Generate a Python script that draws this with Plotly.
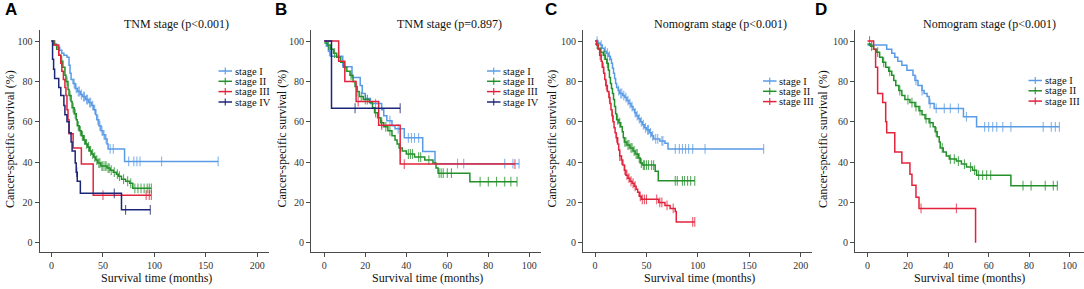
import numpy as np
import plotly.graph_objects as go

W, H = 1084, 289

# ---------------- DATA ----------------
stage_names = ["stage I", "stage II", "stage III", "stage IV"]
panel_titles = ["TNM stage (p&lt;0.001)", "TNM stage (p=0.897)",
                "Nomogram stage (p&lt;0.001)", "Nomogram stage (p&lt;0.001)"]
panel_letters = ["A", "B", "C", "D"]
x_ticks_long = [0, 50, 100, 150, 200]
x_ticks_short = [0, 20, 40, 60, 80, 100]
y_ticks = [0, 20, 40, 60, 80, 100]

# Panel A
A_I_t = [0, 2, 5, 8, 10, 12, 15, 17, 18, 19, 21, 23, 25, 28, 30, 33, 36, 39, 41, 43, 44, 46, 48, 50, 52, 54, 55, 71]
A_I_s = [100, 98.5, 97, 95.5, 94, 93, 92, 88, 84, 81, 79, 76.5, 75, 73.5, 72.5, 71, 69.5, 68, 66, 63.5, 61, 58, 55.5, 53.5, 51.5, 49, 46.5, 40.3]
A_I_c = [22, 24, 26, 27, 29, 31, 32, 34, 35, 37, 38, 40, 42, 45, 47, 49, 51, 53, 57, 60, 75, 80, 83, 86, 107, 162]

A_II_t = [0, 3, 5, 7, 9, 11, 13, 14, 16, 17, 19, 20, 22, 24, 25, 27, 29, 31, 33, 35, 37, 39, 41, 43, 45, 48, 54, 57, 60, 63, 65, 68, 72, 76, 79]
A_II_s = [100, 98, 96, 93, 90, 87, 83, 80, 76, 73, 70, 67, 64, 61, 58, 55.5, 53, 51, 49, 47.5, 45.5, 44, 42.5, 41, 39.5, 38, 37, 36, 35, 34, 33, 31.5, 30.5, 29.5, 27]
A_II_c = [10, 15, 18, 21, 23, 26, 28, 30, 32, 34, 36, 38, 40, 42, 44, 46, 47, 49, 50, 52, 53, 55, 56, 58, 61, 64, 66, 70, 74, 77, 81, 84, 87, 90, 93, 95, 97]

A_III_t = [0, 2, 7, 9, 10, 11.5, 13, 14, 15, 16, 17, 21, 29, 40.5]
A_III_s = [100, 98, 93, 89, 85, 81, 77, 73, 66, 61, 54, 47, 39, 23.6]
A_III_c = [50, 92, 95, 97]

A_IV_t = [0, 1, 2, 3, 7, 9, 12, 13, 15, 17, 19, 20, 23, 24, 25, 28, 68]
A_IV_s = [100, 91, 86, 81.5, 77, 73, 68, 63.5, 60, 54.5, 50, 45.5, 39.5, 35, 30.5, 24.5, 16.3]
A_IV_c = [24.5, 61, 72, 96]

# Panel B
B_I_t = [0, 1, 2, 3, 9, 13.5, 17.5, 18.5, 20, 22.5, 28, 29, 30.5, 33, 34.5, 39, 48, 54]
B_I_s = [100, 97.5, 95, 92.5, 87.3, 82, 78, 74, 71.5, 69, 66, 63, 60.5, 58, 56.5, 52, 45.2, 39.2]
B_I_c = [2.5, 25, 32, 36, 41, 42.5, 44, 46, 65, 68, 88, 92, 95]

B_II_t = [0, 1.5, 3, 4.5, 6, 8, 9.5, 11, 12.5, 14, 15, 16, 17, 19, 22, 23.5, 24.5, 26, 27.5, 29, 31, 33, 34.5, 35.5, 36.5, 38, 40, 44, 49, 53, 54.5, 55.5, 71]
B_II_s = [99, 98, 96, 94, 92, 89.5, 87, 85, 83, 80, 77.5, 75, 72.5, 71, 69.5, 67, 64.5, 62, 59.5, 57.5, 55.5, 53, 51, 49, 47, 45.5, 44, 42.5, 41, 39.5, 37, 34.5, 30.3]
B_II_c = [2, 5, 7, 10, 13, 16, 18, 20, 21, 25, 28, 30, 32, 37, 41, 42, 43, 46, 47, 51, 56, 57, 58, 60, 62, 76, 80, 84, 88, 91, 94]

B_III_t = [0, 7, 10, 15.5, 26.5, 37]
B_III_s = [100, 90, 80, 70, 58.3, 39]
B_III_c = [16.5, 28, 39, 93]

B_IV_t = [0, 3.5]
B_IV_s = [100, 66.7]
B_IV_c = [15, 37]

# Panel C
C_I_t = [0, 3, 5, 7, 9, 11, 13, 15, 16, 17, 18, 19, 20, 21, 22.5, 24, 27, 29, 31, 33, 35, 37, 38.5, 40, 42, 44, 46, 48, 50, 53, 55, 57, 63, 68, 71]
C_I_s = [100, 99, 98, 96.5, 95, 94, 92.5, 91, 89, 86.5, 84, 81.5, 79, 77, 75.5, 74, 73, 72, 70.5, 69, 67.5, 66, 64.5, 63, 61.5, 60, 58.5, 57, 56, 54.5, 53, 51.5, 50.5, 49.3, 46.5]
C_I_c = [2, 6, 10, 12, 14, 23, 25, 26, 28, 30, 32, 34, 36, 39, 41, 43, 45, 47, 49, 51, 52, 54, 56, 59, 61, 65, 66, 78, 82, 85, 88, 91, 95, 107, 164]

C_II_t = [0, 3, 5, 8, 10, 11.5, 13, 14, 15, 16, 17, 18, 19, 20, 21, 23, 25, 26.5, 27.5, 28.5, 31, 34, 37, 39, 42, 44, 46, 58.5, 61.5]
C_II_s = [98.5, 96.5, 94.5, 93, 91, 89, 85.5, 82, 79, 76.5, 74, 71, 67.5, 64, 61, 59.5, 57.5, 55, 52, 50, 48.5, 47, 45.5, 44, 42, 39.5, 38.5, 35.5, 30.7]
C_II_c = [2, 6, 9, 12, 22, 24, 29, 30, 32, 33, 35, 36, 38, 40, 41, 43, 45, 47, 48, 50, 52, 55, 57, 78, 80, 85, 87, 90, 93, 97]

C_III_t = [0, 1.5, 3, 4.5, 6, 7, 8.5, 9.5, 10.5, 12, 13.5, 14.5, 15.5, 16.5, 17.5, 18.5, 19.5, 20.5, 22, 23, 24, 25.5, 27, 28.5, 30, 32, 34, 36, 38, 40, 41.5, 43, 45, 62, 68, 73, 78, 79]
C_III_s = [100, 98, 96, 93, 90, 87, 84, 81, 78, 75, 72, 69, 66, 63, 60, 57, 54.5, 52, 49, 46, 43, 41, 38.5, 36, 33.5, 32, 30.5, 29.5, 28, 26.5, 25, 23, 21.5, 20, 18.5, 17, 15.5, 10.3]
C_III_c = [5, 8, 11, 14, 17, 21, 24, 26, 29, 31, 33, 35, 37, 39, 44, 46, 48, 50, 60, 63, 65, 70, 76, 95, 97]

# Panel D
D_I_t = [0, 9.5, 12, 13.5, 15, 17, 19.5, 22.5, 23.5, 25, 27, 28, 29.5, 30.5, 33, 47.5, 54]
D_I_s = [98, 96, 94, 92, 90, 88, 85.5, 83, 80.5, 78, 75.5, 74, 72.5, 69, 66.6, 62.5, 57.5]
D_I_c = [3, 24, 27, 31, 34, 38, 41, 45, 49, 58, 60, 62, 64, 67, 71, 87, 91, 93, 95]

D_II_t = [0, 1.5, 3, 4.5, 6, 7.5, 9, 10.5, 12, 13, 14, 15.5, 17, 18.5, 21, 23.5, 25.5, 27, 28.5, 30.5, 32.5, 33.5, 34.5, 35.5, 36, 37.5, 39, 40.5, 44, 46.5, 49, 52, 54, 71]
D_II_s = [98.5, 97.5, 96, 94.5, 92, 89.5, 87, 85, 83, 80.5, 78, 75.5, 73, 71, 69.5, 67.5, 65.5, 63.5, 61.5, 59.5, 57.5, 55, 52.5, 50, 47, 45, 43, 41.5, 40.5, 39, 37.5, 36, 33.5, 28.3]
D_II_c = [2, 5, 8, 11, 16, 20, 22, 24, 26, 29, 31, 34, 37, 41, 43, 45, 48, 51, 53, 55, 57, 59, 61, 77, 81, 88, 92, 94]

D_III_t = [0, 3, 4, 5, 7.5, 9, 9.5, 13.5, 17, 21, 22, 24, 25.5, 53.5]
D_III_s = [100, 96, 87, 74, 69.5, 60, 54.5, 45, 39.5, 34, 28.5, 22.5, 17, 0]
D_III_c = [1, 26.5, 44]

# ---------------- STYLE ----------------
colors = ["#5a9be6", "#23902a", "#e2233c", "#1c2677"]
serif = "Liberation Serif"
axis_col = "#4a4a4a"

panel_px = [(39.5, 269), (311, 541), (583, 812), (855, 1084)]
x_ranges = [[-11.7, 211.4], [-6.5, 105.7], [-11.7, 211.0], [-6.2, 107.2]]
x_tickvals = [x_ticks_long, x_ticks_short, x_ticks_long, x_ticks_short]
y_range = [-4.6, 105.5]
y_top_px, y_bot_px = 30, 252

panels = [
    [(A_I_t, A_I_s, A_I_c), (A_II_t, A_II_s, A_II_c), (A_III_t, A_III_s, A_III_c), (A_IV_t, A_IV_s, A_IV_c)],
    [(B_I_t, B_I_s, B_I_c), (B_II_t, B_II_s, B_II_c), (B_III_t, B_III_s, B_III_c), (B_IV_t, B_IV_s, B_IV_c)],
    [(C_I_t, C_I_s, C_I_c), (C_II_t, C_II_s, C_II_c), (C_III_t, C_III_s, C_III_c)],
    [(D_I_t, D_I_s, D_I_c), (D_II_t, D_II_s, D_II_c), (D_III_t, D_III_s, D_III_c)],
]

title_cx = [176.5, 449, 720.5, 989.5]
xtitle_cx = [156, 427.5, 699, 969]
ytitle_cx = [10, 281.5, 551.5, 823]
letter_x = [2.5, 272.5, 543, 812.5]
legend_px = [(218.5, [71, 81.3, 91.6, 102]), (487, [71, 81.3, 91.6, 102]),
             (763, [81, 91.3, 101.6]), (1028.5, [80.5, 90.8, 101.1])]

def px_x(p):
    return p / W

def px_y(p):
    return 1 - p / H

fig = go.Figure()
layout = dict(width=W, height=H, margin=dict(l=0, r=0, t=0, b=0),
              paper_bgcolor="white", plot_bgcolor="white", showlegend=False)
annotations = []
shapes = []

for i, curves in enumerate(panels):
    k = "" if i == 0 else str(i + 1)
    xa, ya = "x" + k, "y" + k
    for j, (t, s, c) in enumerate(curves):
        t = np.asarray(t, float)
        s = np.asarray(s, float)
        c = np.asarray(c, float)
        end = max(t[-1], c.max() if len(c) else t[-1])
        xs = np.append(t, end)
        ys = np.append(s, s[-1])
        fig.add_trace(go.Scatter(x=xs, y=ys, mode="lines", line=dict(color=colors[j], width=1.5, shape="hv"),
                                 xaxis=xa, yaxis=ya, hoverinfo="skip"))
        idx = np.searchsorted(t, c, side="right") - 1
        fig.add_trace(go.Scatter(x=c, y=s[idx], mode="markers", opacity=0.75,
                                 marker=dict(symbol="line-ns", size=7, color=colors[j],
                                             line=dict(width=1.1, color=colors[j])),
                                 xaxis=xa, yaxis=ya, hoverinfo="skip"))
    l, r = panel_px[i]
    common = dict(showline=True, linecolor=axis_col, linewidth=1, ticks="outside", ticklen=4,
                  tickcolor=axis_col, tickwidth=1, showgrid=False, zeroline=False,
                  tickfont=dict(family=serif, size=10, color="#333"))
    layout["xaxis" + k] = dict(domain=[px_x(l), px_x(r)], range=x_ranges[i], anchor=ya,
                               tickvals=x_tickvals[i], **common)
    layout["yaxis" + k] = dict(domain=[px_y(y_bot_px), px_y(y_top_px)], range=y_range, anchor=xa,
                               tickvals=y_ticks, **common)

    annotations.append(dict(x=px_x(title_cx[i]), y=px_y(24), xref="paper", yref="paper",
                            text=panel_titles[i], showarrow=False, xanchor="center", yanchor="middle",
                            font=dict(family=serif, size=12, color="#111")))
    annotations.append(dict(x=px_x(xtitle_cx[i]), y=px_y(278), xref="paper", yref="paper",
                            text="Survival time (months)", showarrow=False, xanchor="center", yanchor="middle",
                            font=dict(family=serif, size=12, color="#111")))
    annotations.append(dict(x=px_x(ytitle_cx[i]), y=px_y(139), xref="paper", yref="paper",
                            text="Cancer-specific survival (%)", showarrow=False, textangle=-90,
                            xanchor="center", yanchor="middle",
                            font=dict(family=serif, size=12, color="#111")))
    annotations.append(dict(x=px_x(letter_x[i]), y=px_y(9.5), xref="paper", yref="paper",
                            text="<b>" + panel_letters[i] + "</b>", showarrow=False,
                            xanchor="left", yanchor="middle",
                            font=dict(family="Liberation Sans", size=17, color="black")))
    lx, rows = legend_px[i]
    for j, ry in enumerate(rows):
        shapes.append(dict(type="line", xref="paper", yref="paper", x0=px_x(lx), x1=px_x(lx + 13.5),
                           y0=px_y(ry), y1=px_y(ry), line=dict(color=colors[j], width=1.5)))
        shapes.append(dict(type="line", xref="paper", yref="paper", x0=px_x(lx + 6.75), x1=px_x(lx + 6.75),
                           y0=px_y(ry - 3.5), y1=px_y(ry + 3.5), line=dict(color=colors[j], width=1.1)))
        annotations.append(dict(x=px_x(lx + 14), y=px_y(ry), xref="paper", yref="paper",
                                text=stage_names[j], showarrow=False, xanchor="left", yanchor="middle",
                                font=dict(family=serif, size=10.5, color="#111")))

layout["annotations"] = annotations
layout["shapes"] = shapes
fig.update_layout(**layout)
fig.write_html("out.html", config={"displayModeBar": False},
               post_script="document.body.style.margin='0';document.body.style.overflow='hidden';")
